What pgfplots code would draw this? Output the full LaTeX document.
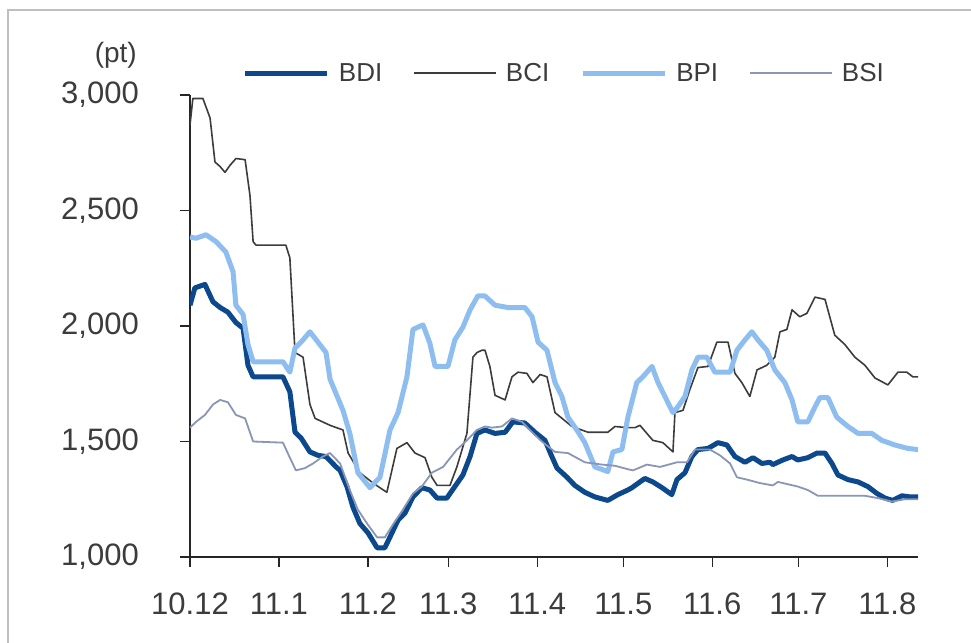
\documentclass[border=0pt]{standalone}
\usepackage{fontspec}
\setmainfont{Liberation Sans}
\usepackage{pgfplots}
\pgfplotsset{compat=1.18}

\definecolor{bdi}{RGB}{12,72,140}
\definecolor{bci}{RGB}{60,60,60}
\definecolor{bpi}{RGB}{142,190,240}
\definecolor{bsi}{RGB}{138,150,182}
\definecolor{txt}{RGB}{60,60,60}

% x = days since 1 Dec 2010, y = index (pt)
\pgfplotstableread{
x y
0 2090
1.7 2165
5.2 2180
8.0 2105
10.5 2080
13.2 2060
16.0 2015
18.5 1990
20.2 1830
22.0 1780
32.4 1780
34.8 1715
36.6 1540
38.7 1515
41.8 1455
44.6 1440
47.4 1435
50.9 1390
52.3 1375
54.7 1305
56.8 1215
59.2 1145
62.0 1105
65.2 1040
67.9 1040
70.4 1105
72.5 1160
74.9 1190
77.7 1260
80.8 1300
83.6 1290
86.1 1255
89.5 1255
92.3 1305
95.1 1355
97.6 1435
100.0 1535
102.8 1550
106.3 1535
109.8 1540
112.5 1585
116.7 1580
120.2 1540
123.7 1505
126.1 1435
127.9 1385
131.4 1345
134.1 1310
137.6 1280
141.1 1260
145.6 1245
149.1 1270
152.6 1290
154.0 1300
158.5 1340
161.3 1325
164.5 1300
167.9 1270
169.7 1335
172.5 1365
174.9 1435
177.0 1465
180.5 1470
184.0 1495
187.1 1485
189.9 1435
193.4 1410
196.2 1430
199.3 1405
202.1 1410
203.1 1400
206.6 1420
209.8 1435
211.8 1420
215.3 1430
218.5 1450
221.3 1450
223.7 1405
225.8 1355
229.3 1335
232.8 1325
236.2 1305
239.4 1275
242.2 1255
244.9 1245
248.1 1265
250.9 1260
253.7 1260
}\bditable

\pgfplotstableread{
x y
0 2870
1.0 2985
4.5 2985
7.0 2900
8.7 2710
10.5 2690
12.2 2665
13.9 2695
16.0 2725
19.2 2720
20.9 2565
22.0 2365
23.0 2350
33.4 2350
34.8 2295
36.6 1885
39.4 1865
41.8 1660
43.6 1600
48.8 1570
53.3 1550
55.1 1450
59.2 1365
63.8 1320
68.6 1280
72.1 1470
75.6 1495
78.4 1450
81.9 1430
84.3 1345
86.1 1310
90.6 1310
93.0 1390
96.5 1535
98.6 1865
100.0 1885
101.7 1895
102.8 1895
104.5 1825
106.3 1700
109.8 1680
112.2 1780
114.3 1800
117.4 1795
119.5 1755
122.0 1790
124.4 1780
127.2 1625
133.1 1565
138.7 1540
145.6 1540
148.1 1565
152.3 1560
155.1 1560
156.8 1570
161.3 1505
164.8 1495
168.3 1455
169.0 1625
171.8 1635
174.2 1725
177.0 1820
180.5 1825
183.6 1930
187.5 1930
189.9 1795
192.3 1755
195.1 1695
197.6 1810
201.0 1830
203.8 1865
205.6 1975
208.0 1985
209.8 2070
212.5 2040
215.0 2055
217.8 2125
221.3 2115
224.7 1960
228.2 1920
231.7 1865
235.2 1830
238.7 1775
243.2 1745
246.7 1800
249.8 1800
251.9 1780
253.7 1780
}\bcitable

\pgfplotstableread{
x y
0 2385
2.1 2380
5.6 2395
9.1 2365
12.5 2320
15.0 2235
16.0 2090
18.5 2050
20.2 1920
22.0 1845
32.4 1845
34.8 1800
36.6 1905
38.7 1930
41.8 1975
44.6 1930
47.4 1885
48.8 1770
53.3 1635
55.7 1535
58.5 1365
62.7 1300
66.2 1345
69.7 1550
72.5 1625
75.6 1780
77.7 1985
81.2 2005
83.6 1925
85.4 1825
89.9 1825
92.3 1940
95.1 1995
97.6 2070
100.3 2130
102.8 2130
106.3 2090
110.8 2080
116.7 2080
119.2 2040
121.3 1930
124.4 1895
127.2 1755
129.6 1695
131.7 1605
134.8 1550
137.6 1495
141.1 1390
145.6 1370
147.4 1455
150.5 1465
152.6 1605
155.7 1755
157.8 1780
161.0 1825
163.1 1755
165.5 1695
168.3 1625
170.0 1650
172.5 1695
174.9 1810
177.0 1865
180.1 1865
182.9 1800
188.2 1800
190.6 1895
193.4 1940
195.8 1975
197.9 1940
201.0 1895
203.8 1810
207.3 1755
209.8 1680
211.8 1585
215.3 1585
217.8 1650
219.5 1690
222.3 1690
225.4 1605
229.3 1565
232.8 1535
237.6 1535
241.1 1505
245.6 1485
250.2 1470
253.7 1465
}\bpitable

\pgfplotstableread{
x y
0 1560
2.1 1585
5.2 1615
8.0 1660
10.5 1680
13.2 1670
16.0 1615
19.2 1600
22.0 1500
32.4 1495
34.8 1430
36.9 1375
40.1 1385
42.9 1405
46.3 1435
48.8 1450
52.3 1405
55.7 1290
58.5 1205
61.7 1145
65.2 1085
67.9 1085
70.7 1140
74.2 1205
77.7 1275
80.8 1305
84.3 1365
88.2 1390
93.0 1465
96.5 1505
100.0 1550
102.8 1565
105.2 1560
108.7 1565
112.2 1600
115.7 1585
119.2 1540
122.6 1500
127.2 1455
131.7 1450
137.6 1410
143.6 1400
148.1 1395
152.6 1380
154.4 1375
159.2 1400
163.8 1390
169.7 1410
173.2 1410
176.0 1465
181.2 1465
184.7 1440
188.2 1405
190.6 1345
194.1 1335
198.6 1320
203.1 1310
204.9 1325
211.8 1305
215.3 1290
218.8 1265
235.2 1265
239.7 1255
244.6 1240
249.1 1250
253.7 1250
}\bsitable

\begin{document}
\begin{tikzpicture}
\path[use as bounding box] (-190bp,-86bp) rectangle (781bp,557bp);
\fill[white] (-190bp,-86bp) rectangle (781bp,557bp);
\draw[line width=2bp, black!25] (-182bp,-90bp) -- (-182bp,547bp) -- (790bp,547bp);
\begin{axis}[
    at={(0,0)}, anchor=south west,
    scale only axis,
    width=728bp, height=462bp,
    xmin=0, xmax=253.7,
    ymin=1000, ymax=3000,
    axis lines=left,
    axis line style={-, line width=1.3bp, black!85},
    tick align=outside,
    major tick length=10bp,
    tick style={line width=1.3bp, black!85},
    xtick={0,31,62,90,121,151,182,212,243},
    xticklabels={10.12,11.1,11.2,11.3,11.4,11.5,11.6,11.7,11.8},
    ytick={1000,1500,2000,2500,3000},
    /pgf/number format/assume math mode=true,
    /pgf/number format/1000 sep={,},
    ticklabel style={font=\fontsize{31bp}{36bp}\selectfont, text=txt},
    yticklabel style={anchor=east, inner sep=0pt, xshift=-41bp},
    xticklabel style={anchor=north, inner sep=0pt, yshift=-26bp},
    legend columns=4,
    legend cell align=left,
    legend image code/.code={\draw[#1] (0bp,0bp) -- (82bp,0bp);},
    legend style={at={(rel axis cs:0.0728,1.0476)}, anchor=west,
        draw=none, fill=none, inner sep=0pt, outer sep=0pt,
        font=\fontsize{26bp}{30bp}\selectfont, text=txt,
        nodes={inner sep=0pt},
        /tikz/every odd column/.append style={column sep=9bp},
        /tikz/every even column/.append style={column sep=31bp}},
]
\addplot[bdi, line width=5bp, line join=round] table {\bditable};
\addlegendentry{BDI}
\addplot[bci, line width=1.6bp, line join=round] table {\bcitable};
\addlegendentry{BCI}
\addplot[bpi, line width=5bp, line join=round] table {\bpitable};
\addlegendentry{BPI}
\addplot[bsi, line width=1.8bp, line join=round] table {\bsitable};
\addlegendentry{BSI}
\end{axis}
\node[anchor=east, inner sep=0pt, text=txt, font=\fontsize{28bp}{32bp}\selectfont] at (-53bp,502bp) {(pt)};
\end{tikzpicture}
\end{document}
